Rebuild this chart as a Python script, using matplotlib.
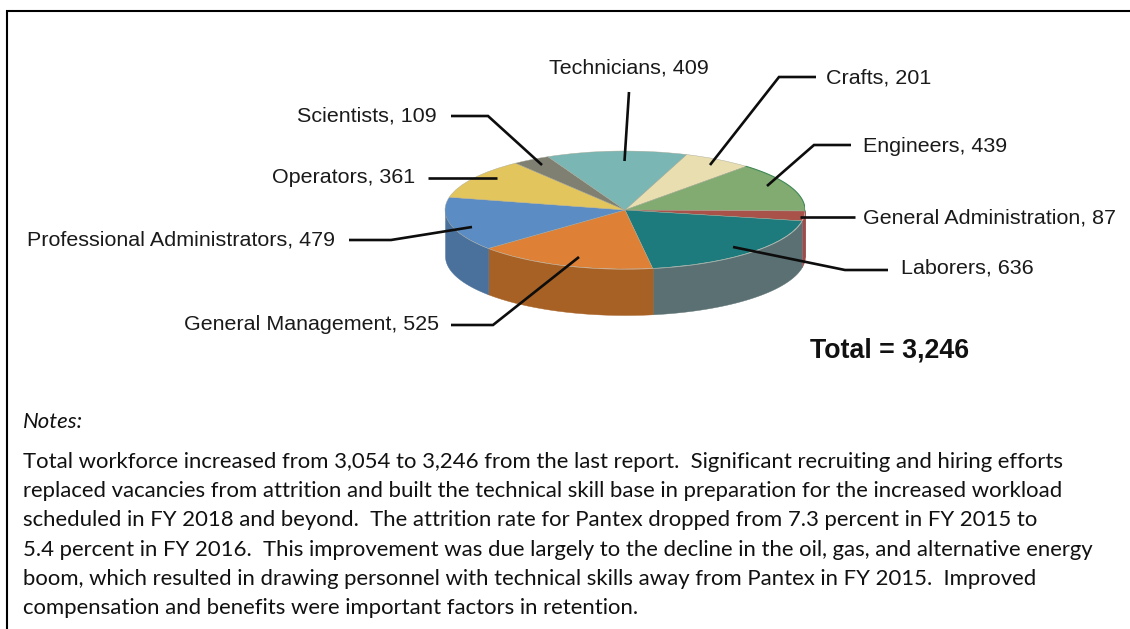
import numpy as np
import matplotlib
matplotlib.use("Agg")
import matplotlib.pyplot as plt

W, H = 1130, 629

categories = ["Crafts", "Engineers", "General Administration", "Laborers",
              "General Management", "Professional Administrators",
              "Operators", "Scientists", "Technicians"]
values = [201, 439, 87, 636, 525, 479, 361, 109, 409]
top_colors = ["#e8deb0", "#82ab72", "#a8524a", "#1e7b7d", "#de8036",
              "#5b8cc4", "#e3c55e", "#7f8072", "#7ab6b3"]
wall_colors = ["#c8bd8c", "#5f8a55", "#a8464a", "#5a7072", "#a86125",
               "#4a709c", "#b89c40", "#66665a", "#5f9593"]
total_label = "Total = 3,246"

notes_heading = "Notes:"
notes_lines = [
    "Total workforce increased from 3,054 to 3,246 from the last report.  Significant recruiting and hiring efforts",
    "replaced vacancies from attrition and built the technical skill base in preparation for the increased workload",
    "scheduled in FY 2018 and beyond.  The attrition rate for Pantex dropped from 7.3 percent in FY 2015 to",
    "5.4 percent in FY 2016.  This improvement was due largely to the decline in the oil, gas, and alternative energy",
    "boom, which resulted in drawing personnel with technical skills away from Pantex in FY 2015.  Improved",
    "compensation and benefits were important factors in retention.",
]

# layout (pixels)
CX, CY, RX, RY, DEPTH = 625, 210, 180, 59, 46
START_DEG = 70
label_pos = [(826, 84), (863, 152), (863, 224), (901, 273), (184, 330),
             (27, 245), (272, 183), (297, 121), (549, 73)]
leaders = [
    [(816, 77), (779, 77), (710, 165)],
    [(851, 145), (814, 145), (767, 186)],
    [(855, 217), (800, 217)],
    [(888, 270), (845, 270), (733, 247)],
    [(451, 325), (493, 325), (579, 257)],
    [(349, 240), (391, 240), (472, 227)],
    [(428, 178), (497, 178)],
    [(451, 116), (488, 116), (542, 165)],
    [(629, 92), (624.5, 161)],
]

fig = plt.figure(figsize=(W / 100, H / 100), dpi=100, facecolor="white")

# pie axes: unit circle squashed to an ellipse, extended below for the wall
bottom_units = 1 + DEPTH / RY
pie_ax = fig.add_axes([(CX - RX) / W, 1 - (CY + RY + DEPTH) / H,
                       2 * RX / W, (2 * RY + DEPTH) / H])
shares = np.array(values, dtype=float) / sum(values) * 360
edges = np.concatenate([[0], np.cumsum(shares)]) + (90 - START_DEG)

for i, color in enumerate(wall_colors):
    lo, hi = max(edges[i], 90), min(edges[i + 1], 270)
    if hi > lo:
        th = np.radians(np.linspace(lo, hi, 120))
        pie_ax.fill_between(np.sin(th), np.cos(th), np.cos(th) - DEPTH / RY,
                            color=color, lw=0.3, zorder=1)

pie_ax.pie(values, colors=top_colors, startangle=START_DEG, counterclock=False,
           radius=1, wedgeprops=dict(linewidth=0.3, edgecolor="#a8a896", zorder=3))
th = np.radians(np.linspace(edges[1], edges[2], 80))
pie_ax.plot(np.sin(th), np.cos(th), color="#3f8a55", lw=0.8, zorder=4)
pie_ax.set_aspect("auto")
pie_ax.set_xlim(-1, 1)
pie_ax.set_ylim(-bottom_units, 1)
pie_ax.axis("off")

# overlay in pixel coordinates
ax = fig.add_axes([0, 0, 1, 1], facecolor="none")
ax.set_xlim(0, W)
ax.set_ylim(H, 0)
ax.axis("off")


def fit_size(text, width, **kw):
    """Font size at which text is width pixels wide."""
    t = ax.text(0, 0, text, fontsize=10, **kw)
    w = t.get_window_extent(fig.canvas.get_renderer()).width
    t.remove()
    return 10 * width / w


label_texts = [f"{c}, {v}" for c, v in zip(categories, values)]
ls = fit_size(label_texts[5], 309, family="Liberation Sans")
for s, (x, y) in zip(label_texts, label_pos):
    ax.text(x, y, s, fontsize=ls, family="Liberation Sans", color="#1a1a1a", va="baseline")
for pts in leaders:
    xs, ys = zip(*pts)
    ax.plot(xs, ys, color="#0d0d0d", lw=1.9, solid_capstyle="butt", solid_joinstyle="miter")

ts = fit_size(total_label, 159, family="Liberation Sans", weight="bold")
ax.text(810, 358, total_label, fontsize=ts, family="Liberation Sans", weight="bold",
        color="#111111", va="baseline")

ns = fit_size(notes_lines[3], 1072, family="Lato")
ax.text(23, 428, notes_heading, fontsize=ns, family="Lato", style="italic", color="#111111", va="baseline")
for i, line in enumerate(notes_lines):
    ax.text(23, 467.5 + 29.4 * i, line, fontsize=ns, family="Lato", color="#111111", va="baseline")

# frame: left and top rules only
ax.plot([7, 7, W], [H, 10.5, 10.5], color="black", lw=1.5, solid_joinstyle="miter")

fig.savefig("out.png", dpi=100)
